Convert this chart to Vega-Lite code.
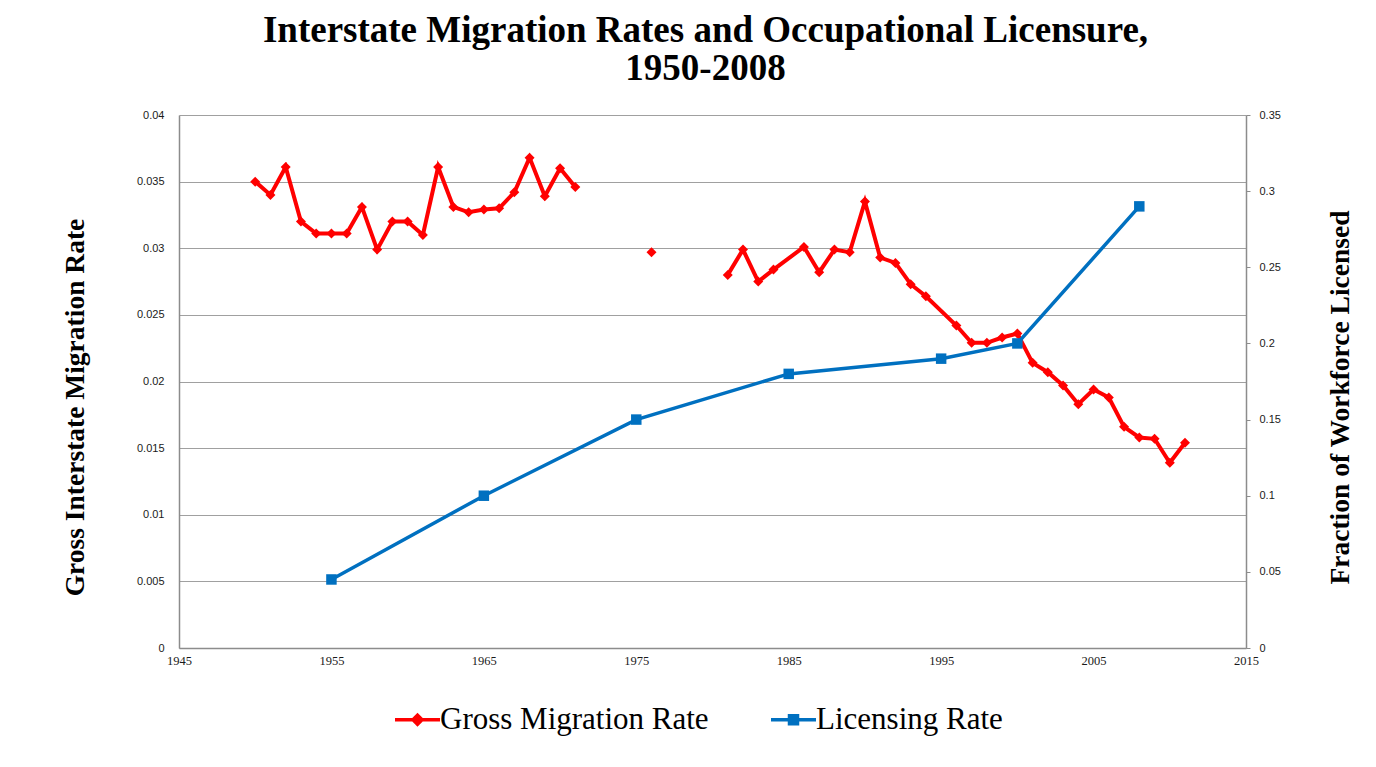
{
  "$schema": "https://vega.github.io/schema/vega-lite/v6.json",
  "width": 1067,
  "height": 533,
  "autosize": {"type": "none"},
  "padding": {"left": 179, "top": 115, "right": 130, "bottom": 119},
  "background": "white",
  "config": {"view": {"stroke": null}},
  "title": {
    "text": ["Interstate Migration Rates and Occupational Licensure,", "1950-2008"],
    "font": "Liberation Serif",
    "fontSize": 37,
    "fontWeight": "bold",
    "color": "#000000",
    "anchor": "middle",
    "lineHeight": 38,
    "offset": 21,
    "dx": -7
  },
  "datasets": {
    "migration": [
      {"year": 1950, "rate": 0.0350, "segment": "a"},
      {"year": 1951, "rate": 0.0340, "segment": "a"},
      {"year": 1952, "rate": 0.0361, "segment": "a"},
      {"year": 1953, "rate": 0.0320, "segment": "a"},
      {"year": 1954, "rate": 0.0311, "segment": "a"},
      {"year": 1955, "rate": 0.0311, "segment": "a"},
      {"year": 1956, "rate": 0.0311, "segment": "a"},
      {"year": 1957, "rate": 0.0331, "segment": "a"},
      {"year": 1958, "rate": 0.0299, "segment": "a"},
      {"year": 1959, "rate": 0.0320, "segment": "a"},
      {"year": 1960, "rate": 0.0320, "segment": "a"},
      {"year": 1961, "rate": 0.0310, "segment": "a"},
      {"year": 1962, "rate": 0.0361, "segment": "a"},
      {"year": 1963, "rate": 0.0331, "segment": "a"},
      {"year": 1964, "rate": 0.0327, "segment": "a"},
      {"year": 1965, "rate": 0.0329, "segment": "a"},
      {"year": 1966, "rate": 0.0330, "segment": "a"},
      {"year": 1967, "rate": 0.0342, "segment": "a"},
      {"year": 1968, "rate": 0.0368, "segment": "a"},
      {"year": 1969, "rate": 0.0339, "segment": "a"},
      {"year": 1970, "rate": 0.0360, "segment": "a"},
      {"year": 1971, "rate": 0.0346, "segment": "a"},
      {"year": 1976, "rate": 0.0297, "segment": "b"},
      {"year": 1981, "rate": 0.0280, "segment": "c"},
      {"year": 1982, "rate": 0.0299, "segment": "c"},
      {"year": 1983, "rate": 0.0275, "segment": "c"},
      {"year": 1984, "rate": 0.0284, "segment": "c"},
      {"year": 1986, "rate": 0.0301, "segment": "c"},
      {"year": 1987, "rate": 0.0282, "segment": "c"},
      {"year": 1988, "rate": 0.0299, "segment": "c"},
      {"year": 1989, "rate": 0.0297, "segment": "c"},
      {"year": 1990, "rate": 0.0335, "segment": "c"},
      {"year": 1991, "rate": 0.0293, "segment": "c"},
      {"year": 1992, "rate": 0.0289, "segment": "c"},
      {"year": 1993, "rate": 0.0273, "segment": "c"},
      {"year": 1994, "rate": 0.0264, "segment": "c"},
      {"year": 1996, "rate": 0.0242, "segment": "c"},
      {"year": 1997, "rate": 0.0229, "segment": "c"},
      {"year": 1998, "rate": 0.0229, "segment": "c"},
      {"year": 1999, "rate": 0.0233, "segment": "c"},
      {"year": 2000, "rate": 0.0236, "segment": "c"},
      {"year": 2001, "rate": 0.0214, "segment": "c"},
      {"year": 2002, "rate": 0.0207, "segment": "c"},
      {"year": 2003, "rate": 0.0197, "segment": "c"},
      {"year": 2004, "rate": 0.0183, "segment": "c"},
      {"year": 2005, "rate": 0.0194, "segment": "c"},
      {"year": 2006, "rate": 0.0188, "segment": "c"},
      {"year": 2007, "rate": 0.0166, "segment": "c"},
      {"year": 2008, "rate": 0.0158, "segment": "c"},
      {"year": 2009, "rate": 0.0157, "segment": "c"},
      {"year": 2010, "rate": 0.0139, "segment": "c"},
      {"year": 2011, "rate": 0.0154, "segment": "c"}
    ],
    "licensing": [
      {"year": 1955, "share": 0.045},
      {"year": 1965, "share": 0.10},
      {"year": 1975, "share": 0.15},
      {"year": 1985, "share": 0.18},
      {"year": 1995, "share": 0.19},
      {"year": 2000, "share": 0.20},
      {"year": 2008, "share": 0.29}
    ]
  },
  "layer": [
    {
      "data": {"name": "migration"},
      "encoding": {
        "x": {
          "field": "year",
          "type": "quantitative",
          "scale": {"domain": [1945, 2015], "nice": false, "zero": false},
          "axis": {
            "title": null,
            "values": [1945, 1955, 1965, 1975, 1985, 1995, 2005, 2015],
            "format": "d",
            "grid": false,
            "ticks": false,
            "domainColor": "#8c8c8c",
            "domainWidth": 1.5,
            "labelFont": "Liberation Serif",
            "labelFontSize": 12.5,
            "labelColor": "#1a1a1a",
            "labelPadding": 6,
            "labelFlush": false
          }
        },
        "y": {
          "field": "rate",
          "type": "quantitative",
          "scale": {"domain": [0, 0.04], "nice": false},
          "axis": {
            "orient": "left",
            "title": "Gross Interstate Migration Rate",
            "titleFont": "Liberation Serif",
            "titleFontSize": 27.5,
            "titleFontWeight": "bold",
            "titleColor": "#000000",
            "titleAngle": -90,
            "titleAlign": "center",
            "titleBaseline": "middle",
            "titleX": -104,
            "titleY": 292,
            "values": [0, 0.005, 0.01, 0.015, 0.02, 0.025, 0.03, 0.035, 0.04],
            "format": "~g",
            "grid": true,
            "gridColor": "#a0a0a0",
            "gridWidth": 1.2,
            "ticks": false,
            "domainColor": "#8c8c8c",
            "domainWidth": 1.5,
            "labelFont": "Liberation Sans",
            "labelFontSize": 11,
            "labelColor": "#1a1a1a",
            "labelPadding": 15
          }
        },
        "color": {
          "datum": "Gross Migration Rate",
          "scale": {"domain": ["Gross Migration Rate", "Licensing Rate"], "range": ["#ff0000", "#0070c0"]},
          "legend": {
            "title": null,
            "orient": "none",
            "direction": "horizontal",
            "legendX": 223,
            "legendY": 589,
            "padding": 0,
            "labelFont": "Liberation Serif",
            "labelFontSize": 31,
            "labelColor": "#000000",
            "labelOffset": 7,
            "symbolSize": 100,
            "symbolStrokeWidth": 3.5,
            "symbolOpacity": 1,
            "columnPadding": 55,
            "labelLimit": 400,
            "encode": {
              "symbols": {
                "update": {
                  "shape": {"signal": "datum.value === 'Licensing Rate' ? 'M-4.5,0H4.5M-0.8,-0.8H0.8V0.8H-0.8Z' : 'M-4.5,0H4.5M0,-0.9L0.9,0L0,0.9L-0.9,0Z'"},
                  "fill": {"signal": "datum.value === 'Licensing Rate' ? '#0070c0' : '#ff0000'"},
                  "stroke": {"signal": "datum.value === 'Licensing Rate' ? '#0070c0' : '#ff0000'"},
                  "fillOpacity": {"value": 1},
                  "strokeWidth": {"value": 3.5}
                }
              }
            }
          }
        }
      },
      "layer": [
        {"mark": {"type": "line", "strokeWidth": 4}, "encoding": {"detail": {"field": "segment"}}},
        {"mark": {"type": "point", "shape": "diamond", "filled": true, "size": 100, "opacity": 1}}
      ]
    },
    {
      "data": {"name": "licensing"},
      "encoding": {
        "x": {"field": "year", "type": "quantitative"},
        "y": {
          "field": "share",
          "type": "quantitative",
          "scale": {"domain": [0, 0.35], "nice": false},
          "axis": {
            "orient": "right",
            "title": "Fraction of Workforce Licensed",
            "titleFont": "Liberation Serif",
            "titleFontSize": 27.5,
            "titleFontWeight": "bold",
            "titleColor": "#000000",
            "titleAngle": -90,
            "titleAlign": "center",
            "titleBaseline": "middle",
            "titleX": 94,
            "titleY": 282,
            "values": [0, 0.05, 0.1, 0.15, 0.2, 0.25, 0.3, 0.35],
            "format": "~g",
            "grid": false,
            "ticks": true,
            "tickSize": 4,
            "tickColor": "#8c8c8c",
            "domainColor": "#8c8c8c",
            "domainWidth": 1.5,
            "labelFont": "Liberation Sans",
            "labelFontSize": 11,
            "labelColor": "#1a1a1a",
            "labelPadding": 9
          }
        },
        "color": {"datum": "Licensing Rate"}
      },
      "layer": [
        {"mark": {"type": "line", "strokeWidth": 3.5}},
        {"mark": {"type": "point", "shape": "square", "filled": true, "size": 110, "opacity": 1}}
      ]
    }
  ],
  "resolve": {"scale": {"y": "independent"}}
}
